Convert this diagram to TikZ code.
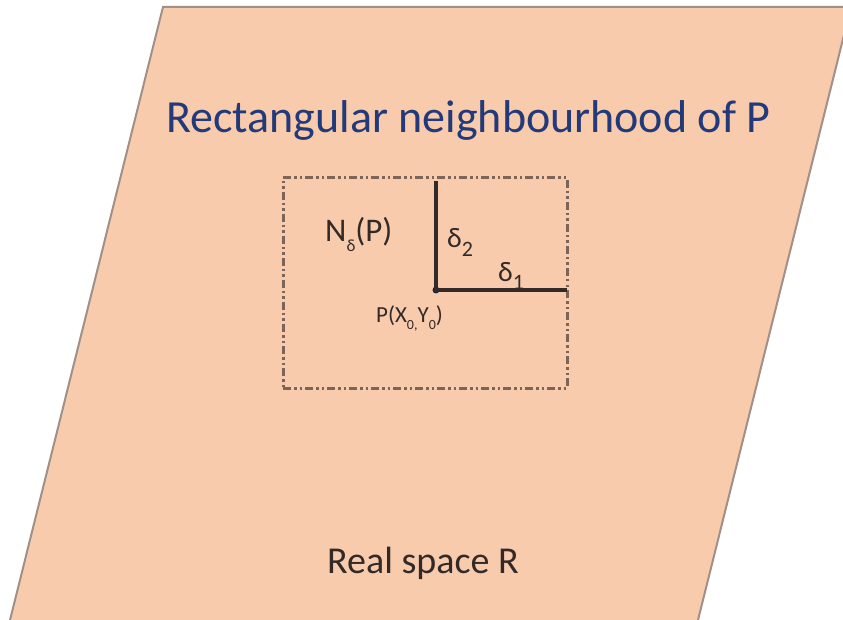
\documentclass[tikz,border=0pt]{standalone}
\usepackage{fontspec}
\setmainfont{Carlito}
\definecolor{peach}{HTML}{F8CBAD}
\definecolor{edgegray}{HTML}{A09088}
\definecolor{navy}{HTML}{22397A}
\definecolor{dashgray}{HTML}{7A6558}
\definecolor{ink}{HTML}{332A28}
\tikzset{
  plane/.style={fill=peach, draw=edgegray, line width=2pt, line join=miter},
  nbhdbox/.style={draw=dashgray, line width=3pt,
    dash pattern=on 8pt off 3pt on 2.5pt off 3pt on 2.5pt off 3pt,
    minimum width=284pt, minimum height=210pt, inner sep=0pt},
  radius line/.style={draw=ink, line width=3.5pt},
  lbl/.style={anchor=base west, inner sep=0pt, text=ink},
}
\begin{document}
\begin{tikzpicture}[x=1pt,y=-1pt]
\useasboundingbox (0,0) rectangle (843,620);
\clip (0,0) rectangle (843,620);
\coordinate (TL) at (163,7);
\coordinate (TR) at (851,7);
\coordinate (BR) at (693,640);
\coordinate (BL) at (5,640);
\draw[plane] (TL) -- (TR) -- (BR) -- (BL) -- cycle;

\node[anchor=base west, inner sep=0pt, text=navy, font=\fontsize{46}{50}\selectfont] (title) at (166,133) {Rectangular neighbourhood of P};

\node[nbhdbox] (nbhd) at (425,283) {};
\node[circle, fill=navy!60!black, inner sep=0pt, minimum size=7pt] (P) at (436,290) {};
\coordinate (top) at (436,181);
\coordinate (right) at (567,290);
\draw[radius line] (top) -- (P.center) -- (right);

\node[lbl, font=\fontsize{33}{36}\selectfont] (N) at (325,242) {N\raisebox{-0.3em}{\fontsize{17}{18}\selectfont δ}(P)};
\node[lbl, font=\fontsize{28}{32}\selectfont] (d2) at (447,248) {δ\raisebox{-0.3em}{\fontsize{22}{24}\selectfont 2}};
\node[lbl, font=\fontsize{28}{32}\selectfont] (d1) at (498,281) {δ\raisebox{-0.3em}{\fontsize{22}{24}\selectfont 1}};
\node[lbl, font=\fontsize{23}{26}\selectfont] (Plabel) at (376,323) {P(X\raisebox{-0.3em}{\fontsize{14}{16}\selectfont 0,}Y\raisebox{-0.3em}{\fontsize{14}{16}\selectfont 0})};

\node[lbl, font=\fontsize{38}{42}\selectfont] (real) at (327,573) {Real space R};
\end{tikzpicture}
\end{document}
